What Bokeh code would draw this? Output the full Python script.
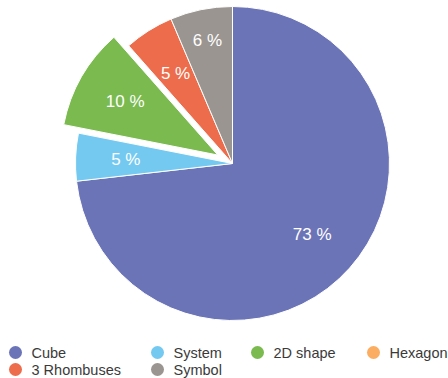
import math
import numpy as np
from bokeh.plotting import figure
from bokeh.models import Range1d, ColumnDataSource
from bokeh.core.properties import value
from bokeh.embed import file_html
from bokeh.resources import INLINE

# Share of each category, in percent (clockwise from 12 o'clock)
categories = ["Cube", "System", "2D shape", "Hexagon", "3 Rhombuses", "Symbol"]
shares = [73.2, 4.9, 10.4, 0.0, 5.1, 6.4]
colors = ["#6c74b8", "#74c9f1", "#7aba4f", "#fbae62", "#ec6c4c", "#9a9590"]
pulled_out = ["2D shape"]

W, H = 448, 378
CX, CY, R = 232, 163, 157          # pie centre / radius in screen pixels
EXPLODE = 17                       # offset of a pulled-out slice
LABEL_R = 0.68 * R
LABEL_R_OVERRIDE = {"Symbol": 0.80 * R}   # keep small neighbouring labels apart

p = figure(width=W, height=H, x_range=Range1d(0, W), y_range=Range1d(0, H),
           output_backend="svg", toolbar_location=None, min_border=0,
           outline_line_color=None, background_fill_color="white")
p.axis.visible = False
p.grid.visible = False

def sy(y):
    """screen y (top-down) -> data y"""
    return H - y

total = sum(shares)
fracs = np.array(shares) / total
ends = np.cumsum(fracs)
starts = ends - fracs

rows = dict(x=[], y=[], start=[], end=[], color=[])
labels = dict(x=[], y=[], text=[])
for cat, f, s, e, c in zip(categories, fracs, starts, ends, colors):
    if f <= 0:
        continue
    a0 = math.pi / 2 - 2 * math.pi * s
    a1 = math.pi / 2 - 2 * math.pi * e
    mid = (a0 + a1) / 2
    off = EXPLODE if cat in pulled_out else 0
    x0 = CX + off * math.cos(mid)
    y0 = sy(CY) + off * math.sin(mid)
    rows["x"].append(x0)
    rows["y"].append(y0)
    rows["start"].append(a1)
    rows["end"].append(a0)
    rows["color"].append(c)
    lr = LABEL_R_OVERRIDE.get(cat, LABEL_R)
    labels["x"].append(x0 + lr * math.cos(mid))
    labels["y"].append(y0 + lr * math.sin(mid))
    labels["text"].append(f"{round(f * 100)} %")

p.wedge(x="x", y="y", radius=R, start_angle="start", end_angle="end",
        fill_color="color", line_color="white", line_width=1,
        source=ColumnDataSource(rows))
p.text(x="x", y="y", text="text", source=ColumnDataSource(labels),
       text_color="white", text_font=value("Liberation Sans"),
       text_font_size="17px", text_align="center", text_baseline="middle")

# legend: four columns, filled row by row
col_x = [15, 157, 257, 373]
row_y = [352, 369]
leg = dict(x=[], y=[], tx=[], color=[], text=[])
for i, (cat, c) in enumerate(zip(categories, colors)):
    cx = col_x[i % 4]
    cy = sy(row_y[i // 4])
    leg["x"].append(cx)
    leg["y"].append(cy)
    leg["tx"].append(cx + 16)
    leg["color"].append(c)
    leg["text"].append(cat)
src = ColumnDataSource(leg)
p.scatter(x="x", y="y", size=13, marker="circle", fill_color="color",
          line_color=None, source=src)
p.text(x="tx", y="y", text="text", source=src, text_color="#3a3a3a",
       text_font=value("Liberation Sans"), text_font_size="14.5px",
       text_align="left", text_baseline="middle")

open("out.html", "w").write(file_html(p, INLINE))
